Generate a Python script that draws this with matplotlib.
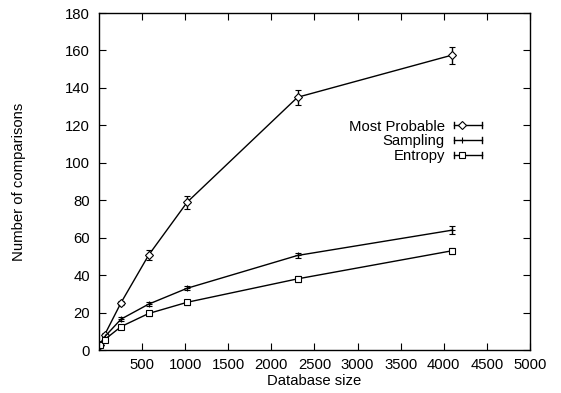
import matplotlib
matplotlib.use('Agg')
import matplotlib.pyplot as plt
from matplotlib.legend_handler import HandlerBase
from matplotlib.lines import Line2D

plt.rcParams['font.family'] = ['Liberation Sans', 'DejaVu Sans']

# Data
db_size = [16, 64, 256, 576, 1024, 2304, 4096]

most_probable = [2.7, 8.0, 25.3, 50.7, 79.0, 135.0, 157.5]
most_probable_err = [0.8, 1.0, 1.0, 2.5, 3.5, 4.0, 4.5]

sampling = [3.0, 7.0, 16.5, 24.5, 33.0, 50.5, 64.0]
sampling_err = [0.5, 0.8, 1.0, 1.0, 1.2, 1.5, 2.0]

entropy = [2.5, 5.5, 12.5, 19.5, 25.5, 38.0, 53.0]
entropy_err = [0.5, 0.8, 1.0, 1.2, 1.2, 1.5, 1.5]

labels = ['Most Probable', 'Sampling', 'Entropy']
markers = ['D', '+', 's']
marker_sizes = [3.8, 5, 5]

FS = 10.7


class GnuplotErrHandler(HandlerBase):
    # key sample like gnuplot: |-o---| line with end ticks and a point
    def __init__(self, marker, ms):
        super().__init__()
        self.marker = marker
        self.ms = ms

    def create_artists(self, legend, orig_handle, xdescent, ydescent,
                       width, height, fontsize, trans):
        y = height / 2 - ydescent
        x0, x1 = -xdescent, width - xdescent
        h = height * 0.3
        line = Line2D([x0, x1], [y, y], color='black', lw=1)
        t0 = Line2D([x0, x0], [y - h, y + h], color='black', lw=1)
        t1 = Line2D([x1, x1], [y - h, y + h], color='black', lw=1)
        pt = Line2D([x0 + width * 0.3], [y], marker=self.marker, ms=self.ms,
                    mfc='white', mec='black', mew=0.8, ls='none')
        arts = [line, t0, t1, pt]
        for a in arts:
            a.set_transform(trans)
        return arts


fig = plt.figure(figsize=(5.61, 3.93), dpi=100)
ax = fig.add_axes([0.1765, 0.1094, 0.768, 0.8575])

series = [(most_probable, most_probable_err),
          (sampling, sampling_err),
          (entropy, entropy_err)]

handles = []
for (vals, errs), lab, mk, ms in zip(series, labels, markers, marker_sizes):
    ax.errorbar(db_size, vals, yerr=errs, color='black', lw=1,
                elinewidth=1, capsize=2.2, capthick=1,
                marker=mk, ms=ms, mfc='white', mec='black', mew=0.8)
    handles.append(Line2D([], [], color='black', label=lab))

handler_map = {h: GnuplotErrHandler(mk, ms)
               for h, mk, ms in zip(handles, markers, marker_sizes)}

leg = ax.legend(handles=handles, handler_map=handler_map, markerfirst=False,
                frameon=False, loc='upper right', bbox_to_anchor=(0.906, 0.706),
                fontsize=FS, handlelength=1.9, handletextpad=0.6,
                labelspacing=0.05, borderpad=0)
for t in leg.get_texts():
    t.set_ha('right')
leg._legend_box.align = 'right'

ax.set_xlim(0, 5000)
ax.set_ylim(0, 180)
ax.set_xticks(range(500, 5001, 500))
ax.set_yticks(range(0, 181, 20))
ax.tick_params(direction='in', top=True, right=True, length=5,
               labelsize=FS, width=0.8)
ax.tick_params(axis='y', pad=6.5)
ax.tick_params(axis='x', pad=6)
for s in ax.spines.values():
    s.set_linewidth(1)

ax.set_xlabel('Database size', fontsize=FS, labelpad=1)
ax.set_ylabel('Number of comparisons', fontsize=FS, labelpad=28)

fig.savefig('out.png', dpi=100)
